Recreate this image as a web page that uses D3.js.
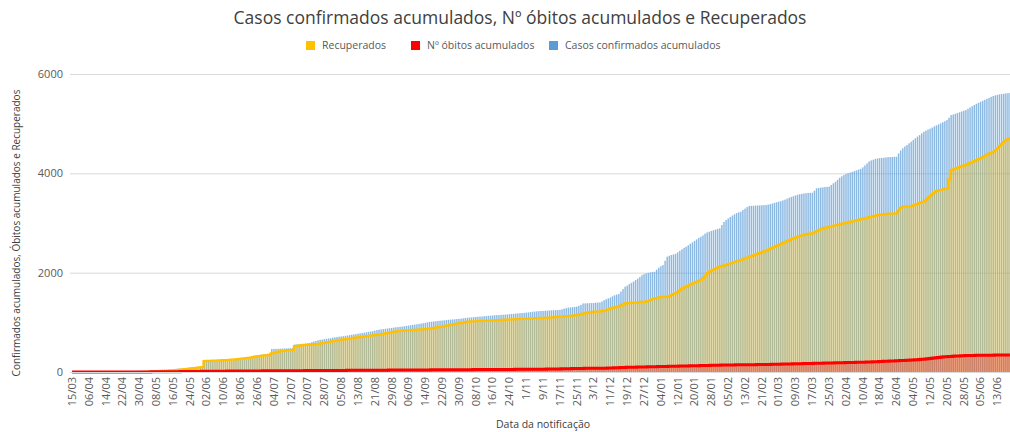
<!DOCTYPE html>
<html>
<head>
<meta charset="utf-8">
<script src="https://cdn.jsdelivr.net/npm/d3@7"></script>
<style>
  body { margin: 0; background: #fff; }
  text { font-family: "Open Sans", sans-serif; }
</style>
</head>
<body>
<div id="chart"></div>
<script>
// Data: one value per notification day (category)
var tickLabels = ["15/03","06/04","14/04","22/04","30/04","08/05","16/05","24/05","02/06","10/06",
  "18/06","26/06","04/07","12/07","20/07","28/07","05/08","13/08","21/08","29/08",
  "06/09","14/09","22/09","30/09","08/10","16/10","24/10","1/11","9/11","17/11",
  "25/11","3/12","11/12","19/12","27/12","04/01","12/01","20/01","28/01","05/02",
  "13/02","21/02","01/03","09/03","17/03","25/03","02/04","10/04","18/04","26/04",
  "04/05","12/05","20/05","28/05","05/06","13/06"];

var confirmados = [
  1,1,2,2,3,3,4,4,5,5, 6,6,7,8,9,10,10,11,12,12, 13,14,15,15,16,17,18,19,20,21,
  22,24,25,26,28,29,31,33,35,38, 40,43,45,48,50,52,55,57,60,63, 66,70,72,75,78,82,88,92,96,100,
  104,107,110,235,236,238,240,241,242,243, 245,246,248,250,252,255,258,262,266,270,
  275,278,282,288,295,300,310,318,330,340, 348,355,362,370,376,462,465,466,468,470,
  472,474,475,477,478,480,552,556,560,565, 570,575,578,582,600,615,625,640,648,655,
  662,668,675,682,690,698,705,711,716,720, 728,735,742,750,756,762,770,778,785,792,
  800,808,815,822,832,845,852,858,864,870, 876,882,888,895,900,905,910,915,920,928,
  935,942,948,955,960,968,975,982,990,1000, 1008,1013,1018,1022,1028,1032,1036,1040,1045,1050,
  1055,1058,1062,1066,1070,1075,1080,1086,1093,1097, 1100,1104,1108,1112,1115,1118,1122,1126,1130,1134,
  1138,1142,1145,1147,1150,1153,1156,1160,1164,1168, 1172,1176,1180,1184,1188,1192,1196,1200,1206,1214,
  1218,1222,1226,1228,1230,1233,1236,1240,1242,1244, 1246,1248,1250,1262,1275,1285,1295,1300,1306,1312,
  1315,1330,1350,1380,1382,1384,1386,1388,1390,1395, 1398,1400,1420,1445,1465,1483,1500,1525,1545,1560,
  1570,1620,1670,1717,1740,1770,1795,1820,1852,1880, 1910,1950,1970,1987,1995,2005,2012,2019,2060,2100,
  2130,2154,2240,2321,2340,2355,2368,2380,2410,2440, 2470,2500,2522,2550,2580,2610,2640,2670,2700,2723,
  2750,2785,2810,2824,2840,2855,2868,2880,2892,2960, 3020,3060,3090,3120,3150,3175,3200,3215,3227,3260,
  3290,3320,3341,3345,3348,3350,3353,3355,3358,3360, 3362,3370,3380,3392,3405,3418,3428,3440,3455,3470,
  3490,3509,3525,3540,3555,3570,3580,3588,3594,3600, 3605,3608,3610,3650,3698,3705,3712,3718,3724,3728,
  3731,3765,3799,3830,3870,3910,3940,3966,3985,4000, 4015,4030,4045,4060,4075,4090,4120,4160,4200,4240,
  4260,4275,4290,4300,4305,4310,4315,4320,4325,4328, 4330,4332,4334,4400,4460,4503,4540,4570,4605,4636,
  4670,4705,4740,4770,4805,4837,4860,4880,4900,4920, 4945,4965,4985,5006,5030,5050,5073,5120,5173,5185,
  5200,5215,5230,5245,5260,5274,5300,5325,5350,5375, 5400,5420,5441,5460,5480,5500,5520,5540,5556,5570,
  5580,5590,5596,5602,5608,5614,5620];

var recuperados = [
  0,0,0,0,0,0,0,0,0,0, 0,0,0,0,0,0,0,0,0,0, 0,0,0,0,0,0,0,0,0,0,
  0,0,0,0,0,1,2,3,4,5, 7,9,11,13,16,19,22,25,30,34, 38,42,47,52,57,62,67,72,80,85,
  90,95,100,220,222,224,226,228,230,232, 234,236,238,240,242,245,248,252,256,260,
  265,270,275,280,285,292,300,308,315,322, 326,330,334,337,340,376,385,395,405,415,
  422,428,434,440,443,446,520,525,530,535, 540,544,548,552,556,560,562,564,572,580,
  588,596,604,612,620,628,636,644,650,656, 662,668,674,680,686,692,698,704,710,716,
  722,728,734,740,743,745,752,760,768,776, 784,792,800,808,814,820,826,832,835,838,
  841,844,847,850,853,856,859,862,865,870, 875,879,885,892,900,908,916,924,932,940,
  948,956,964,972,980,988,996,1004,1013,1016, 1018,1020,1022,1024,1026,1028,1030,1032,1034,1036,
  1038,1040,1043,1047,1049,1051,1053,1055,1057,1059, 1061,1063,1065,1067,1069,1071,1073,1075,1078,1080,
  1082,1084,1086,1088,1090,1092,1094,1096,1098,1100, 1105,1110,1113,1116,1120,1124,1128,1132,1136,1140,
  1147,1155,1165,1175,1185,1195,1200,1205,1210,1214, 1216,1218,1225,1235,1245,1262,1275,1290,1300,1310,
  1315,1340,1360,1383,1386,1388,1390,1392,1395,1400, 1405,1410,1413,1415,1430,1450,1470,1483,1490,1500,
  1508,1512,1514,1516,1530,1550,1570,1584,1610,1640, 1670,1700,1717,1740,1760,1780,1800,1815,1835,1852,
  1890,1940,1990,2019,2040,2060,2080,2100,2120,2130, 2140,2154,2170,2185,2200,2215,2230,2245,2255,2270,
  2290,2305,2321,2335,2350,2365,2380,2395,2410,2422, 2440,2460,2480,2500,2520,2540,2556,2575,2595,2615,
  2640,2657,2675,2690,2705,2720,2738,2748,2758,2770, 2780,2788,2792,2810,2830,2850,2870,2885,2900,2912,
  2925,2935,2945,2955,2965,2975,2985,2993,3003,3013, 3023,3033,3043,3053,3063,3073,3085,3095,3105,3118,
  3130,3140,3150,3160,3165,3170,3175,3180,3185,3188, 3190,3192,3194,3250,3300,3327,3330,3333,3336,3340,
  3355,3370,3385,3400,3415,3428,3460,3500,3540,3580, 3610,3640,3655,3664,3675,3688,3698,3880,4066,4080,
  4095,4110,4125,4140,4155,4167,4185,4205,4225,4245, 4265,4285,4302,4322,4345,4370,4395,4415,4435,4470,
  4510,4550,4590,4630,4660,4685,4703];

var obitos = [
  0,0,0,0,0,0,0,0,0,0, 0,0,0,0,0,0,0,0,0,0, 0,0,0,0,0,0,0,0,0,0,
  1,1,1,1,2,2,2,2,3,3, 3,3,4,4,5,5,5,6,6,6, 7,7,8,8,9,9,10,10,11,11,
  12,12,13,14,14,15,15,15,16,16, 16,17,17,17,18,18,18,19,19,19, 20,20,20,21,21,21,21,22,22,22,
  22,23,23,23,23,24,24,24,24,25, 25,25,25,26,26,26,26,27,27,27, 27,28,28,28,28,29,29,29,29,30,
  30,30,30,31,31,31,31,32,32,32, 32,33,33,33,33,34,34,34,34,35, 35,35,35,36,36,36,36,37,37,37,
  37,38,38,38,38,39,39,39,39,40, 40,40,40,41,41,41,41,42,42,42, 42,43,43,43,43,44,44,44,44,45,
  45,45,45,46,46,46,46,47,47,47, 47,48,48,48,48,49,49,49,49,50, 50,50,50,51,51,51,51,52,52,52,
  52,53,53,53,53,54,54,54,54,55, 55,55,56,56,57,57,58,58,59,59, 60,61,62,63,64,65,66,67,68,69,
  70,71,72,72,73,73,74,74,74,74, 74,75,76,77,78,79,80,82,84,86, 88,90,92,93,94,95,96,97,98,99,
  100,101,102,103,104,105,106,107,108,109, 110,111,112,113,114,115,116,117,118,119, 120,121,122,123,124,125,126,127,128,129,
  130,131,132,133,134,135,136,137,138,139, 140,141,142,142,143,143,144,144,145,145, 146,146,147,147,148,148,149,149,150,150,
  151,152,153,154,155,156,157,158,159,160, 161,162,163,164,165,166,167,168,169,170, 171,172,173,174,175,176,177,178,179,180,
  181,182,183,184,185,186,187,188,189,190, 191,192,193,194,195,196,197,198,199,200, 202,204,206,208,210,212,214,216,218,220,
  222,224,226,228,230,232,234,236,238,240, 243,246,249,252,255,258,262,266,270,275, 280,285,290,295,300,305,308,311,314,317,
  320,322,324,326,328,330,331,332,333,334, 335,336,336,337,337,338,338,339,339,340, 340,340,341,341,341,342,342];

var yTicks = [0, 2000, 4000, 6000];

// SVG size and plot area
var svgWidth = 1010;
var svgHeight = 432;
var plot = { left: 71, right: 1011, top: 74, bottom: 372 };

var svg = d3.select("#chart")
  .append("svg")
  .attr("width", svgWidth)
  .attr("height", svgHeight);

// Scales
var x = d3.scaleBand()
  .domain(d3.range(confirmados.length))
  .range([plot.left, plot.right])
  .paddingInner(0.3)
  .paddingOuter(0.1);

var xFull = d3.scaleBand()
  .domain(d3.range(confirmados.length))
  .range([plot.left, plot.right]);

var y = d3.scaleLinear()
  .domain([0, 6000])
  .range([plot.bottom, plot.top]);

// Gridlines + y axis
var yAxis = svg.append("g")
  .attr("transform", `translate(${plot.left - 1}, 0)`)
  .call(d3.axisLeft(y)
    .tickValues(yTicks)
    .tickFormat(d3.format("d"))
    .tickSize(-(plot.right - plot.left))
    .tickPadding(7));
yAxis.select(".domain").remove();
yAxis.selectAll("line").attr("stroke", "#d9d9d9");
yAxis.selectAll("text")
  .attr("fill", "#595959")
  .style("font-size", "11px");

// Confirmed bars
svg.append("g").selectAll("rect")
  .data(confirmados)
  .enter()
  .append("rect")
  .attr("x", (d, i) => x(i))
  .attr("width", x.bandwidth())
  .attr("y", d => y(d))
  .attr("height", d => plot.bottom - y(d))
  .attr("fill", "#5b9bd5")
  .attr("fill-opacity", 0.7);

// Recovered bars (transparent yellow over the blue)
svg.append("g").selectAll("rect")
  .data(recuperados)
  .enter()
  .append("rect")
  .attr("x", (d, i) => xFull(i))
  .attr("width", xFull.bandwidth())
  .attr("y", d => y(d))
  .attr("height", d => plot.bottom - y(d))
  .attr("fill", "#ffc000")
  .attr("fill-opacity", 0.33);

// Deaths bars
svg.append("g").selectAll("rect")
  .data(obitos)
  .enter()
  .append("rect")
  .attr("x", (d, i) => xFull(i))
  .attr("width", xFull.bandwidth())
  .attr("y", d => y(d))
  .attr("height", d => plot.bottom - y(d))
  .attr("fill", "#ff0000")
  .attr("fill-opacity", 0.3);

// Outline of the recovered and deaths series
var stepLine = d3.line()
  .x((d, i) => xFull(i) + xFull.bandwidth() / 2)
  .y(d => y(d))
  .curve(d3.curveStep);

svg.append("path")
  .datum(recuperados)
  .attr("d", stepLine)
  .attr("fill", "none")
  .attr("stroke", "#ffc000")
  .attr("stroke-width", 2.2);

svg.append("path")
  .datum(obitos)
  .attr("d", stepLine)
  .attr("fill", "none")
  .attr("stroke", "#ff0000")
  .attr("stroke-width", 3);

// x axis baseline + labels
svg.append("line")
  .attr("x1", plot.left - 1).attr("x2", plot.right)
  .attr("y1", plot.bottom + 0.5).attr("y2", plot.bottom + 0.5)
  .attr("stroke", "#d9d9d9");

var xAxis = svg.append("g")
  .attr("transform", `translate(0, ${plot.bottom})`)
  .call(d3.axisBottom(xFull)
    .tickValues(d3.range(0, tickLabels.length * 8, 8))
    .tickFormat(i => tickLabels[i / 8])
    .tickSize(0));
xAxis.select(".domain").remove();
xAxis.selectAll("text")
  .attr("fill", "#595959")
  .style("font-size", "11px")
  .attr("transform", "rotate(-90)")
  .attr("text-anchor", "end")
  .attr("x", -5)
  .attr("y", 0)
  .attr("dy", "0.35em");

// Title
svg.append("text")
  .attr("x", 520)
  .attr("y", 24)
  .attr("text-anchor", "middle")
  .attr("fill", "#404040")
  .style("font-size", "17.5px")
  .text("Casos confirmados acumulados, Nº óbitos acumulados e Recuperados");

// Legend
var legendItems = [
  { name: "Recuperados", color: "#ffc000", x: 306 },
  { name: "Nº óbitos acumulados", color: "#ff0000", x: 411 },
  { name: "Casos confirmados acumulados", color: "#5b9bd5", x: 549 }
];
var legend = svg.append("g");
legend.selectAll("rect")
  .data(legendItems)
  .enter()
  .append("rect")
  .attr("x", d => d.x)
  .attr("y", 41)
  .attr("width", 9)
  .attr("height", 9)
  .attr("fill", d => d.color);
legend.selectAll("text")
  .data(legendItems)
  .enter()
  .append("text")
  .attr("x", d => d.x + 16)
  .attr("y", 49)
  .attr("fill", "#595959")
  .style("font-size", "10.5px")
  .text(d => d.name);

// Axis titles
svg.append("text")
  .attr("transform", "translate(20, 233) rotate(-90)")
  .attr("text-anchor", "middle")
  .attr("fill", "#404040")
  .style("font-size", "10px")
  .text("Confirmados acumulados, Óbitos acumulados e Recuperados");

svg.append("text")
  .attr("x", 543)
  .attr("y", 428)
  .attr("text-anchor", "middle")
  .attr("fill", "#404040")
  .style("font-size", "10.5px")
  .text("Data da notificação");
</script>
</body>
</html>
